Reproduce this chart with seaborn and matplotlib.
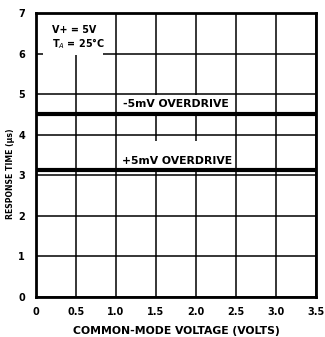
import matplotlib
matplotlib.use("Agg")
import matplotlib.pyplot as plt
from matplotlib.patches import Rectangle
import seaborn as sns
import pandas as pd

sns.set_theme(style="white")
plt.rcParams['font.family'] = ['DejaVu Sans']
plt.rcParams['text.color'] = 'black'
plt.rcParams['axes.labelcolor'] = 'black'
plt.rcParams['xtick.color'] = 'black'
plt.rcParams['ytick.color'] = 'black'

voltage = [0.0, 3.5]
neg_overdrive = [4.5, 4.5]
pos_overdrive = [3.12, 3.12]
xticks = [0, 0.5, 1.0, 1.5, 2.0, 2.5, 3.0, 3.5]
xticklabels = ["0", "0.5", "1.0", "1.5", "2.0", "2.5", "3.0", "3.5"]
yticks = [0, 1, 2, 3, 4, 5, 6, 7]

df = pd.DataFrame({
    "v": voltage * 2,
    "t": neg_overdrive + pos_overdrive,
    "s": ["-5mV OVERDRIVE"] * 2 + ["+5mV OVERDRIVE"] * 2,
})

fig = plt.figure(figsize=(3.25, 3.37), dpi=100)
ax = fig.add_axes([36/325, 1 - 297/337, 280/325, 284/337])

sns.lineplot(data=df, x="v", y="t", units="s", estimator=None, color="black",
             linewidth=3.0, ax=ax, legend=False, zorder=6)

ax.set_xlim(0, 3.5)
ax.set_ylim(0, 7)
ax.set_xticks(xticks)
ax.set_xticklabels(xticklabels)
ax.set_yticks(yticks)
ax.grid(True, color="black", linewidth=1.1)
for sp in ax.spines.values():
    sp.set_color("black")
    sp.set_linewidth(2.0)
    sp.set_zorder(10)
ax.tick_params(axis="both", labelsize=7, length=0, labelcolor="black")
ax.tick_params(axis="y", pad=8)
ax.tick_params(axis="x", pad=7)
for lbl in ax.get_xticklabels() + ax.get_yticklabels():
    lbl.set_fontweight("bold")

ax.set_xlabel("COMMON-MODE VOLTAGE (VOLTS)", fontsize=7.8, fontweight="bold",
              labelpad=7, color="black")
ax.set_ylabel("RESPONSE TIME (µs)", fontsize=5.6, fontweight="bold", color="black")
ax.yaxis.set_label_coords(-0.075, 0.435)

# white label backgrounds (cover the grid behind the annotations)
ax.add_patch(Rectangle((0.025, 0.852), 0.214, 0.148, transform=ax.transAxes,
                       facecolor="white", edgecolor="none", zorder=4))
ax.add_patch(Rectangle((1.02, 4.52), 1.45, 0.46, facecolor="white",
                       edgecolor="none", zorder=4))
ax.add_patch(Rectangle((1.02, 3.14), 1.45, 0.70, facecolor="white",
                       edgecolor="none", zorder=4))

ax.text(0.2, 6.38, "V+ = 5V\nT$_A$ = 25°C", fontsize=6.9, fontweight="bold",
        ha="left", va="center", linespacing=1.05, zorder=5, color="black")
ax.text(1.75, 4.76, "-5mV OVERDRIVE", fontsize=7.8, fontweight="bold",
        ha="center", va="center", zorder=5, color="black")
ax.text(1.76, 3.35, "+5mV OVERDRIVE", fontsize=7.8, fontweight="bold",
        ha="center", va="center", zorder=5, color="black")

fig.savefig("out.png", dpi=100)
